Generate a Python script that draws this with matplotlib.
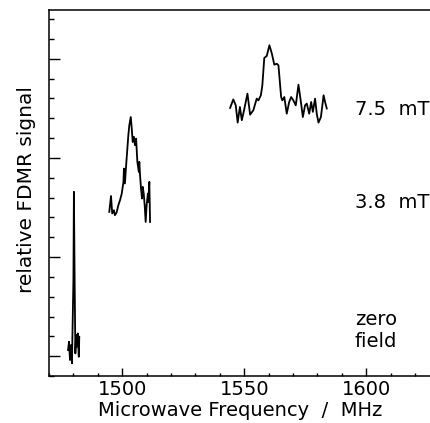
#!/usr/bin/env python3
import numpy as np
from matplotlib import pyplot as plt
from matplotlib.ticker import MultipleLocator, FixedLocator

# zero field trace
f_zero = [1477.8, 1478.2, 1478.6, 1479.0, 1479.4, 1480.0, 1480.2, 1480.5,
          1480.8, 1481.1, 1481.4, 1481.8, 1482.2, 1482.4]
s_zero = [1.31, 1.73, 0.81, 1.56, 0.64, 4.84, 9.29, 4.84,
          1.14, 2.07, 1.48, 2.15, 0.97, 1.98]

# 3.8 mT trace
f_38 = [1494.7, 1495.4, 1495.9, 1496.6, 1497.0, 1497.7, 1498.4, 1499.1,
        1499.8, 1500.5, 1500.7, 1501.1, 1501.6, 1502.1, 1502.5, 1502.9,
        1503.5, 1503.9, 1504.3, 1504.8, 1505.2, 1505.7, 1505.9, 1506.2,
        1506.8, 1507.0, 1507.3, 1507.7, 1508.1, 1508.4, 1508.8, 1509.2,
        1509.6, 1510.0, 1510.5, 1510.7, 1511.1, 1511.4]
s_38 = [8.28, 9.08, 8.20, 8.36, 8.11, 8.25, 8.61, 8.87,
        9.20, 9.79, 10.46, 9.71, 10.63, 11.47, 12.14, 12.64,
        13.06, 12.48, 11.80, 12.06, 11.64, 11.97, 11.47, 10.80,
        10.29, 10.80, 10.13, 9.46, 8.95, 9.54, 9.20, 8.61,
        7.77, 8.61, 9.20, 8.78, 9.79, 7.77]

# 7.5 mT trace
f_75 = [1544.2, 1545.5, 1546.5, 1547.3, 1548.2, 1549.0, 1549.9, 1551.3,
        1552.4, 1553.7, 1555.1, 1555.8, 1556.8, 1557.4, 1558.2, 1559.2,
        1560.3, 1561.3, 1562.3, 1563.3, 1564.0, 1565.1, 1565.6, 1566.4,
        1567.4, 1568.4, 1569.2, 1570.1, 1571.1, 1572.2, 1573.2, 1574.0,
        1574.9, 1575.6, 1576.6, 1577.4, 1578.1, 1579.0, 1579.7, 1580.4,
        1581.4, 1582.5, 1583.1, 1583.8]
s_75 = [13.52, 13.95, 13.65, 12.78, 13.57, 12.90, 13.40, 14.24,
        13.18, 13.40, 13.99, 13.90, 14.16, 14.66, 16.04, 16.14,
        16.68, 16.26, 15.70, 15.75, 15.67, 14.07, 13.90, 14.07,
        13.23, 13.82, 14.07, 13.90, 13.65, 14.69, 13.82, 13.06,
        13.65, 13.74, 13.23, 13.82, 13.32, 13.99, 13.23, 12.78,
        13.06, 14.16, 13.82, 13.49]

labels = [("7.5  mT", 13.45), ("3.8  mT", 8.75), ("zero\nfield", 2.3)]

plt.rcParams['font.family'] = 'DejaVu Sans'
fs = 14
fig = plt.figure(figsize=(4.31, 4.23), dpi=100)
ax = fig.add_axes([0.1137, 0.111, 1 - 0.1137, 0.865])

for f, s in [(f_zero, s_zero), (f_38, s_38), (f_75, s_75)]:
    ax.plot(f, s, color='black', lw=1.3)

for txt, yv in labels:
    ax.text(1595.3, yv, txt, fontsize=fs, va='center', ha='left',
            linespacing=1.2)

ax.set_xlim(1470, 1626.5)
ax.set_ylim(0, 18.45)
ax.spines['right'].set_visible(False)
for sp in ax.spines.values():
    sp.set_linewidth(1.1)

ax.xaxis.set_major_locator(FixedLocator([1500, 1550, 1600]))
ax.xaxis.set_minor_locator(MultipleLocator(10))
ax.yaxis.set_major_locator(FixedLocator([1, 6, 11, 16]))
ax.yaxis.set_minor_locator(MultipleLocator(1))
ax.tick_params(axis='x', which='major', direction='in', length=5.5, width=1,
               labelsize=fs, pad=3)
ax.tick_params(axis='x', which='minor', direction='in', length=2.5, width=1)
ax.tick_params(axis='y', which='major', direction='in', length=8, width=1,
               labelleft=False)
ax.tick_params(axis='y', which='minor', direction='in', length=3.5, width=1)

ax.set_xlabel("Microwave Frequency  /  MHz", fontsize=fs, labelpad=1)
ax.set_ylabel("relative FDMR signal", fontsize=14.5)
ax.yaxis.set_label_coords(-0.035, 0.51)

fig.savefig("out.png", dpi=100)
